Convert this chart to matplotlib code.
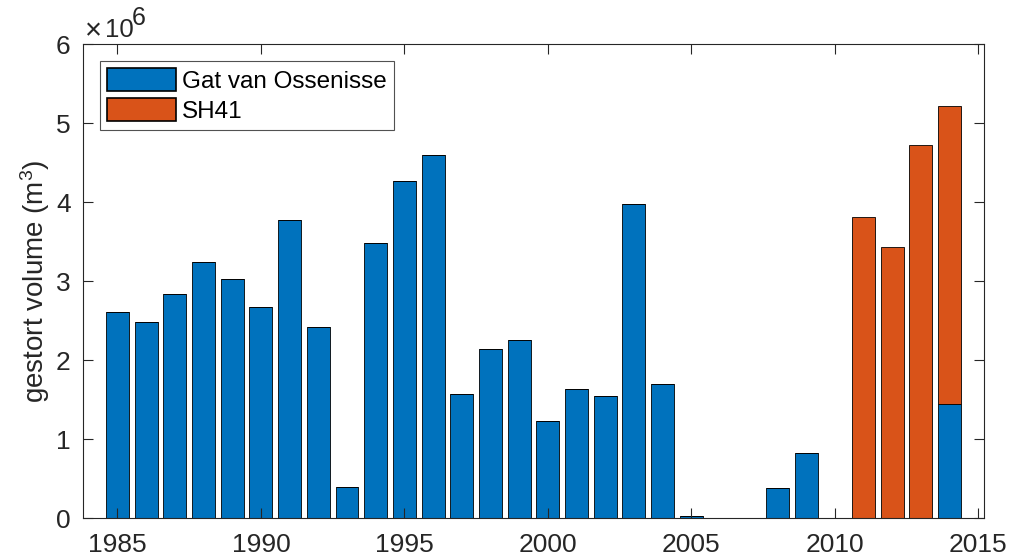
import matplotlib
matplotlib.use("Agg")
import matplotlib.pyplot as plt
import numpy as np
from matplotlib.ticker import FuncFormatter, MultipleLocator

plt.rcParams['font.family'] = ['Liberation Sans', 'DejaVu Sans']
plt.rcParams['mathtext.fontset'] = 'custom'
plt.rcParams['mathtext.rm'] = 'Liberation Sans'
plt.rcParams['mathtext.it'] = 'Liberation Sans'

years = list(range(1985, 2015))
gat_van_ossenisse = [2.61, 2.48, 2.84, 3.24, 3.03, 2.67, 3.77, 2.42, 0.39, 3.48,
                     4.27, 4.60, 1.57, 2.14, 2.26, 1.23, 1.63, 1.54, 3.98, 1.70,
                     0.02, 0.0, 0.0, 0.375, 0.82, 0.0, 0.0, 0.0, 0.0, 1.44]
sh41 = [0.0] * 25 + [0.0, 3.81, 3.43, 4.73, 3.78]
gat_van_ossenisse = np.array(gat_van_ossenisse) * 1e6
sh41 = np.array(sh41) * 1e6

blue = '#0072BD'
orange = '#D95319'
axcol = '#262626'

fig = plt.figure(figsize=(10.2, 5.6), dpi=100)
ax = fig.add_axes([0.0814, 0.075, 0.8833, 0.846])

ax.bar(years, gat_van_ossenisse, width=0.8, color=blue, edgecolor='black',
       linewidth=0.6, label='Gat van Ossenisse')
ax.bar(years, sh41, width=0.8, bottom=gat_van_ossenisse, color=orange,
       edgecolor='black', linewidth=0.6, label='SH41')

ax.set_xlim(1983.8, 2015.2)
ax.set_ylim(0, 6e6)
ax.xaxis.set_major_locator(MultipleLocator(5))
ax.yaxis.set_major_locator(MultipleLocator(1e6))
ax.yaxis.set_major_formatter(FuncFormatter(lambda v, p: f'{v/1e6:g}'))
ax.tick_params(direction='in', top=True, right=True, length=7, width=0.8,
               colors=axcol, labelsize=19)
ax.tick_params(axis='x', pad=11)
ax.tick_params(axis='y', pad=9)
for s in ax.spines.values():
    s.set_color(axcol)
    s.set_linewidth(0.8)

ax.set_ylabel('gestort volume (m$^3$)', fontsize=20, color=axcol, labelpad=3)

# exponent label above the y axis
ax.text(0.0025, 1.011, '\u00d7', transform=ax.transAxes, fontsize=21,
        color=axcol, ha='left', va='baseline')
ax.text(0.0244, 1.0148, '10', transform=ax.transAxes, fontsize=18.5,
        color=axcol, ha='left', va='baseline')
ax.text(0.0544, 1.040, '6', transform=ax.transAxes, fontsize=18,
        color=axcol, ha='left', va='baseline')

leg = ax.legend(loc='upper left', bbox_to_anchor=(0.0189, 0.964), fontsize=17.5,
                frameon=True, fancybox=False, edgecolor=axcol, handlelength=2.84,
                handleheight=1.07, borderpad=0.28, labelspacing=0.22,
                handletextpad=0.25, borderaxespad=0.0)
leg.get_frame().set_linewidth(0.8)
for h in leg.legend_handles:
    h.set_linewidth(1.2)
for t in leg.get_texts():
    t.set_color('black')

fig.savefig('out.png', dpi=100)
